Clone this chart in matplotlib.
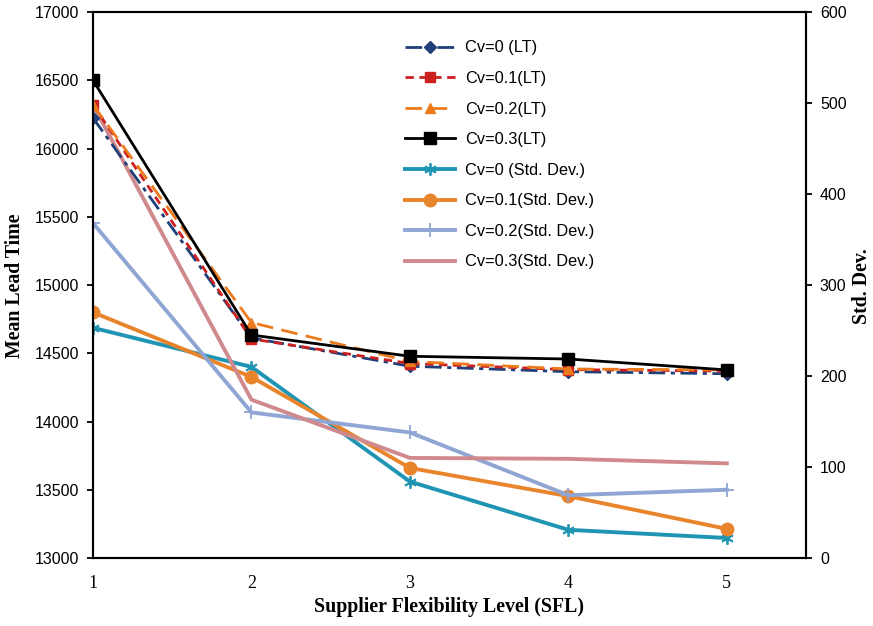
import matplotlib
matplotlib.use("Agg")
import matplotlib.pyplot as plt

sfl = [1, 2, 3, 4, 5]

lt_cv0 = [16224, 14612, 14405, 14365, 14350]
lt_cv01 = [16320, 14605, 14425, 14380, 14370]
lt_cv02 = [16320, 14725, 14440, 14385, 14378]
lt_cv03 = [16500, 14634, 14478, 14458, 14378]

sd_cv0 = [253, 210, 84, 31, 22]
sd_cv01 = [270, 199, 99, 68, 32]
sd_cv02 = [368, 160, 138, 69, 75]
sd_cv03 = [498, 174, 110, 109, 104]

x_ticks = [1, 2, 3, 4, 5]
left_ticks = [13000, 13500, 14000, 14500, 15000, 15500, 16000, 16500, 17000]
right_ticks = [0, 100, 200, 300, 400, 500, 600]

fig = plt.figure(figsize=(8.73, 6.26), dpi=100)
ax = fig.add_axes([0.1065, 0.1086, 0.8168, 0.8722])
ax2 = ax.twinx()

# Std Dev lines on right axis
l5, = ax2.plot(sfl, sd_cv0, color="#1f95b3", lw=2.8, marker=(6, 2, 0), ms=9, mew=1.3,
               label="Cv=0 (Std. Dev.)")
l6, = ax2.plot(sfl, sd_cv01, color="#e8842c", lw=2.8, marker="o", ms=9,
               label="Cv=0.1(Std. Dev.)")
l7, = ax2.plot(sfl, sd_cv02, color="#8fa5d3", lw=2.8, marker="+", ms=10, mew=1.3,
               label="Cv=0.2(Std. Dev.)")
l8, = ax2.plot(sfl, sd_cv03, color="#d08a8d", lw=2.8,
               label="Cv=0.3(Std. Dev.)")

# Lead time lines on left axis (draw on top)
ax.set_zorder(ax2.get_zorder() + 1)
ax.patch.set_visible(False)
l1, = ax.plot(sfl, lt_cv0, color="#1f3f78", lw=2, ls=(0, (6, 2, 1.5, 2)), marker="D", ms=6,
              label="Cv=0 (LT)")
l2, = ax.plot(sfl, lt_cv01, color="#cc1f1f", lw=2, ls=(0, (3, 2)), marker="s", ms=7,
              label="Cv=0.1(LT)")
l3, = ax.plot(sfl, lt_cv02, color="#ec7a1c", lw=2, ls=(0, (6, 3)), marker="^", ms=7,
              label="Cv=0.2(LT)")
l4, = ax.plot(sfl, lt_cv03, color="black", lw=2, marker="s", ms=8,
              label="Cv=0.3(LT)")

ax.set_xlim(1, 5.5)
ax.set_ylim(13000, 17000)
ax2.set_ylim(0, 600)
ax.set_xticks(x_ticks)
ax.set_yticks(left_ticks)
ax2.set_yticks(right_ticks)

for a in (ax, ax2):
    for s in a.spines.values():
        s.set_linewidth(1.5)
        s.set_color("black")

ax.tick_params(axis="y", direction="out", length=4, width=1.3, labelsize=11.5, pad=6)
ax2.tick_params(axis="y", direction="out", length=4, width=1.3, labelsize=11.5, pad=6)
ax.tick_params(axis="x", length=0, pad=12)
for lab in ax.get_yticklabels() + ax2.get_yticklabels():
    lab.set_family("Liberation Sans")
for lab in ax.get_xticklabels():
    lab.set_family("Liberation Serif")
    lab.set_fontsize(13)

lab_font = dict(family="Liberation Serif", fontweight="bold", fontsize=14.3)
fig.text(449 / 873, 1 - 607 / 626, "Supplier Flexibility Level (SFL)",
         ha="center", va="center", **lab_font)
fig.text(15 / 873, 1 - 286 / 626, "Mean Lead Time", rotation=90,
         ha="center", va="center", **lab_font)
fig.text(862 / 873, 1 - 286 / 626, "Std. Dev.", rotation=90,
         ha="center", va="center", **lab_font)

handles = [l1, l2, l3, l4, l5, l6, l7, l8]
leg = ax.legend(handles=handles, loc="upper left", bbox_to_anchor=(0.417, 0.975),
                frameon=False, prop={"family": "Liberation Sans", "size": 11.8},
                handlelength=3.05, handletextpad=0.6, labelspacing=0.95,
                borderpad=0.4)

fig.savefig("out.png", dpi=100)
